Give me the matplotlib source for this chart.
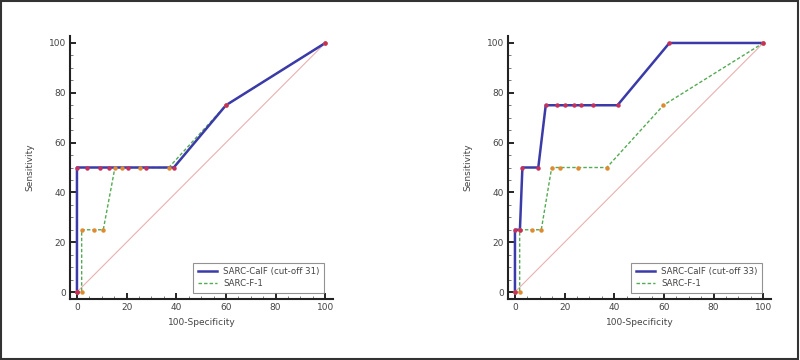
import matplotlib
matplotlib.use("Agg")
import matplotlib.pyplot as plt
from matplotlib.patches import Rectangle
from matplotlib.ticker import MultipleLocator

# ROC data (100-Specificity, Sensitivity)
calf31_x = [0, 0, 0, 3.9, 9.3, 13, 20.6, 27.7, 39, 60, 100]
calf31_y = [0, 0, 50, 50, 50, 50, 50, 50, 50, 75, 100]
sarcf_left_x = [0, 1.9, 1.9, 7, 10.6, 15.3, 18, 25.4, 37, 60, 100]
sarcf_left_y = [0, 0, 25, 25, 25, 50, 50, 50, 50, 75, 100]

calf33_x = [0, 0, 2, 3, 9.4, 12.4, 16.8, 20, 23.7, 26.6, 31.6, 41.3, 62.2, 100]
calf33_y = [0, 25, 25, 50, 50, 75, 75, 75, 75, 75, 75, 75, 100, 100]
sarcf_right_x = [0, 1.9, 1.9, 7, 10.6, 14.8, 18.1, 25.3, 37, 59.8, 100]
sarcf_right_y = [0, 0, 25, 25, 25, 50, 50, 50, 50, 75, 100]

panels = [
    (calf31_x, calf31_y, sarcf_left_x, sarcf_left_y, "SARC-CalF (cut-off 31)"),
    (calf33_x, calf33_y, sarcf_right_x, sarcf_right_y, "SARC-CalF (cut-off 33)"),
]

fig = plt.figure(figsize=(8, 3.6), dpi=100)
fig.patches.append(Rectangle((0.001, 0.002), 0.997, 0.995, transform=fig.transFigure,
                             fill=False, edgecolor="#333333", linewidth=1.5))

lefts = [0.0875, 0.635]
for left, (bx, by, gx, gy, blabel) in zip(lefts, panels):
    ax = fig.add_axes([left, 0.1694, 0.329, 0.7306])
    # reference diagonal
    ax.plot([0, 100], [0, 100], color="#eab0b0", lw=0.8, zorder=1)
    ax.plot(gx, gy, color="#55aa55", lw=1.0, ls=(0, (2.5, 1.5)), zorder=2,
            label="SARC-F-1")
    ax.plot(gx, gy, ls="none", marker="o", ms=2.2, color="#e08a30", zorder=4)
    ax.plot(bx, by, color="#3a3aa8", lw=1.8, zorder=3, label=blabel)
    ax.plot(bx, by, ls="none", marker="o", ms=2.2, color="#c8305a", zorder=4)

    ax.set_xlim(-2.8, 103.2)
    ax.set_ylim(-2.8, 102.8)
    for s in ["top", "right"]:
        ax.spines[s].set_visible(False)
    for s in ["left", "bottom"]:
        ax.spines[s].set_linewidth(1.5)
        ax.spines[s].set_color("#222222")
    ax.xaxis.set_major_locator(MultipleLocator(20))
    ax.yaxis.set_major_locator(MultipleLocator(20))
    ax.xaxis.set_minor_locator(MultipleLocator(5))
    ax.yaxis.set_minor_locator(MultipleLocator(5))
    ax.tick_params(which="major", direction="in", length=4, width=1.2,
                   labelsize=6.5, labelcolor="#444444", pad=3)
    ax.tick_params(which="minor", direction="in", length=2, width=0.6,
                   color="#666666")
    ax.set_xlabel("100-Specificity", fontsize=6.5, color="#444444", labelpad=4)
    ax.set_ylabel("Sensitivity", fontsize=6.5, color="#444444", labelpad=10)

    handles, labels = ax.get_legend_handles_labels()
    leg = ax.legend(handles[::-1], labels[::-1], loc="lower right",
                    bbox_to_anchor=(0.965, 0.022), fontsize=6.2,
                    frameon=True, fancybox=False, handlelength=2.2,
                    handletextpad=0.7, borderpad=0.55, labelspacing=0.35,
                    borderaxespad=0)
    leg.get_frame().set_edgecolor("#777777")
    leg.get_frame().set_linewidth(0.8)
    for t in leg.get_texts():
        t.set_color("#444444")

fig.savefig("out.png", dpi=100)
